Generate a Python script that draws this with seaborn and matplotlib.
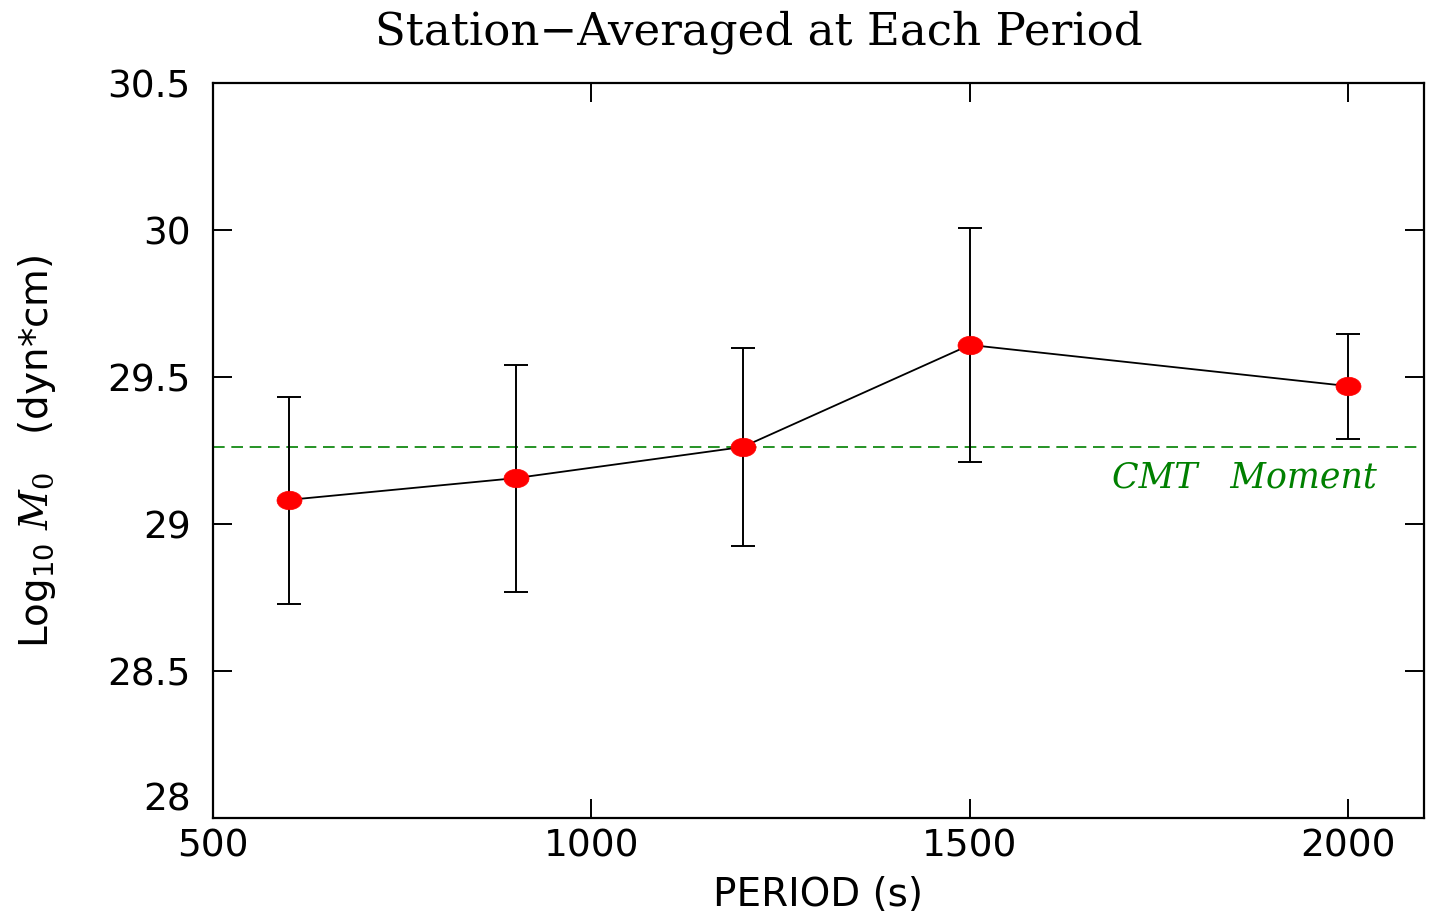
import matplotlib
matplotlib.use("Agg")
import matplotlib.pyplot as plt
from matplotlib.path import Path
from matplotlib.transforms import Affine2D
import seaborn as sns
import pandas as pd

# Station-averaged moment estimates per period
periods = [600, 900, 1200, 1500, 2000]
log_m0 = [29.082, 29.156, 29.262, 29.609, 29.469]
err_up = [0.350, 0.386, 0.337, 0.398, 0.178]
err_dn = [0.354, 0.387, 0.337, 0.398, 0.180]
cmt_moment = 29.262

x_ticks = [500, 1000, 1500, 2000]
y_ticks = [28, 28.5, 29, 29.5, 30, 30.5]
y_tick_labels = ["28", "28.5", "29", "29.5", "30", "30.5"]

sns.set_theme(style="white")
plt.rcParams["font.family"] = ["DejaVu Sans"]
plt.rcParams["mathtext.fontset"] = "dejavuserif"
for key in ("text.color", "axes.labelcolor", "xtick.color", "ytick.color"):
    plt.rcParams[key] = "black"

df = pd.DataFrame({"period": periods, "m0": log_m0})

fig = plt.figure(figsize=(14.32, 9.12), dpi=100)
ax = fig.add_axes([0.1487, 0.102, 0.8457, 0.8059])

# slightly flattened dot marker
dot = Path.unit_circle().transformed(Affine2D().scale(1.0, 0.74))

ax.errorbar(periods, log_m0, yerr=[err_dn, err_up], fmt="none",
            ecolor="black", elinewidth=1.4, capsize=8.5, capthick=1.4, zorder=2)
sns.lineplot(data=df, x="period", y="m0", ax=ax, color="black", lw=1.3,
             marker=dot, markersize=18, markerfacecolor="red",
             markeredgecolor="red", markeredgewidth=0.5, zorder=3)

ax.axhline(cmt_moment, color="#008000", lw=1.2, ls=(0, (7, 4)), zorder=1)
ax.text(2038, 29.16, "CMT   Moment", color="#008000", fontsize=25,
        family="DejaVu Serif", style="italic", ha="right", va="center")

ax.set_xlim(500, 2100)
ax.set_ylim(28, 30.5)
ax.set_xticks(x_ticks)
ax.set_xticklabels([str(t) for t in x_ticks])
ax.set_yticks(y_ticks)
ax.set_yticklabels(y_tick_labels)

ax.tick_params(axis="both", which="major", direction="in", length=14,
               width=1.4, color="black", labelsize=27, top=True, right=True,
               bottom=True, left=True)
ax.tick_params(axis="x", pad=7)
ax.tick_params(axis="y", pad=16)
# keep the lowest y label above the x tick labels
ax.get_yticklabels()[0].set_va("bottom")
for s in ax.spines.values():
    s.set_color("black")
    s.set_linewidth(1.6)

ax.set_xlabel("PERIOD (s)", fontsize=28)
ax.xaxis.set_label_coords(0.5, -0.077)
ax.set_ylabel(r"Log$_{\mathsf{10}}$ $M_{\mathit{0}}$   (dyn*cm)", fontsize=28)
ax.yaxis.set_label_coords(-0.128, 0.5)

fig.text(0.530, 0.965, "Station\u2212Averaged at Each Period",
         family="DejaVu Serif", fontsize=32.5, ha="center", va="center")

fig.savefig("out.png", dpi=100)
